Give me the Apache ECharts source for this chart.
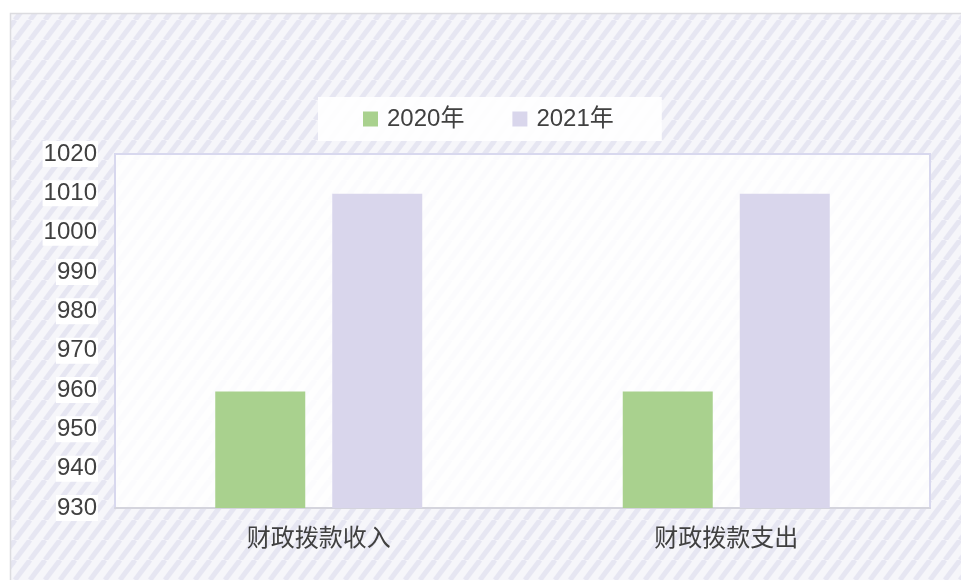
<!DOCTYPE html>
<html>
<head>
<meta charset="utf-8">
<script src="https://cdn.jsdelivr.net/npm/echarts@6/dist/echarts.min.js"></script>
<style>
html, body { margin: 0; padding: 0; background: #fff; }
#chart { width: 961px; height: 580px; }
</style>
</head>
<body>
<div id="chart"></div>
<script>
// 数据
var categories = ['财政拨款收入', '财政拨款支出'];
var seriesNames = ['2020年', '2021年'];
var values2020 = [959.6, 959.6];
var values2021 = [1009.9, 1009.9];
var yMin = 930, yMax = 1020, yStep = 10;

// 斜条纹背景
function stripeTile() {
    var w = 15, h = 20;
    var c = document.createElement('canvas');
    c.width = w; c.height = h;
    var ctx = c.getContext('2d');
    ctx.fillStyle = '#f6f6fa';
    ctx.fillRect(0, 0, w, h);
    ctx.strokeStyle = '#e6e6f2';
    ctx.lineWidth = 5;
    [-w, 0, w].forEach(function (dx) {
        ctx.beginPath();
        ctx.moveTo(dx, h);
        ctx.lineTo(dx + w, 0);
        ctx.stroke();
    });
    return c;
}

var chart = echarts.init(document.getElementById('chart'));
var font = "'Liberation Sans', 'Noto Sans CJK SC', sans-serif";

chart.setOption({
    animation: false,
    graphic: [{
        type: 'rect',
        z: -10,
        silent: true,
        shape: { x: 10.5, y: 13.5, width: 960, height: 580 },
        style: { fill: { image: stripeTile(), repeat: 'repeat' }, stroke: '#dcdce0', lineWidth: 1.5 }
    }],
    legend: {
        data: seriesNames,
        left: 318,
        top: 97,
        padding: [10, 48, 10, 45],
        backgroundColor: 'rgba(255,255,255,0.9)',
        icon: 'rect',
        itemWidth: 15,
        itemHeight: 15,
        itemGap: 48,
        textStyle: { fontSize: 24, color: '#404040', fontFamily: font, padding: [0, 0, 0, 4] }
    },
    grid: {
        left: 115,
        right: 31,
        top: 154,
        bottom: 72,
        show: true,
        backgroundColor: 'rgba(255,255,255,0.82)',
        borderColor: '#d8d8ee',
        borderWidth: 2
    },
    xAxis: {
        type: 'category',
        data: categories,
        axisTick: { show: false },
        axisLine: { lineStyle: { color: '#d2d2d8', width: 1.5 } },
        axisLabel: { fontSize: 24, color: '#404040', fontFamily: font, margin: 19 }
    },
    yAxis: {
        type: 'value',
        min: yMin,
        max: yMax,
        interval: yStep,
        splitLine: { show: false },
        axisLine: { show: false },
        axisTick: { show: false },
        axisLabel: {
            fontSize: 24,
            color: '#404040',
            fontFamily: font,
            margin: 17,
            backgroundColor: '#ffffff',
            padding: [1, 1],
            formatter: function (v) { return String(v); }
        }
    },
    series: [{
        name: seriesNames[0],
        type: 'bar',
        data: values2020,
        barWidth: 90,
        barGap: '30%',
        itemStyle: { color: '#a9d18e' }
    }, {
        name: seriesNames[1],
        type: 'bar',
        data: values2021,
        barWidth: 90,
        itemStyle: { color: '#d9d6ec' }
    }]
});
</script>
</body>
</html>
